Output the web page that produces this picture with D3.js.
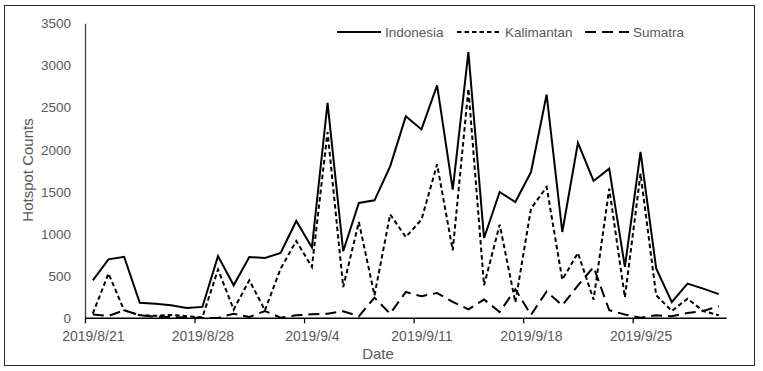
<!DOCTYPE html>
<html>
<head>
<meta charset="utf-8">
<script src="https://cdn.jsdelivr.net/npm/d3@7"></script>
<style>
  body { margin: 0; background: #fff; }
  text { font-family: "Liberation Sans", Arial, sans-serif; }
</style>
</head>
<body>
<div id="chart"></div>
<script>
// daily values 2019/8/21 .. 2019/9/30
var startDate = "2019-08-21";
var indonesia = [450, 700, 730, 185, 172, 155, 122, 135, 738, 391, 727,
  715, 775, 1155, 840, 2555, 795, 1368, 1400, 1803, 2396, 2241, 2763, 1526, 3158,
  953, 1498, 1379, 1735, 2655, 1024, 2082, 1629, 1775, 610, 1973, 592, 192, 412,
  352, 287];
var kalimantan = [55, 532, 95, 36, 30, 40, 25, 12, 578, 104, 451,
  95, 589, 918, 609, 2210, 371, 1142, 273, 1233, 964, 1170, 1826, 806, 2724,
  391, 1111, 190, 1301, 1558, 459, 775, 221, 1538, 249, 1716, 273, 87, 233,
  87, 36];
var sumatra = [44, 28, 95, 36, 20, 15, 10, 5, 5, 55, 15,
  87, 8, 35, 47, 55, 83, 24, 245, 55, 312, 261, 300, 194, 107,
  222, 75, 345, 40, 318, 154, 390, 608, 95, 45, 6, 36, 24, 63,
  87, 142];
var yTicks = [0, 500, 1000, 1500, 2000, 2500, 3000, 3500];
var xTickLabels = ["2019/8/21", "2019/8/28", "2019/9/4", "2019/9/11", "2019/9/18", "2019/9/25"];
var seriesNames = ["Indonesia", "Kalimantan", "Sumatra"];

var W = 763, H = 371;
var svg = d3.select("#chart").append("svg").attr("width", W).attr("height", H);

// outer frame
svg.append("rect").attr("x", 4.5).attr("y", 5.5).attr("width", 750).attr("height", 360)
  .attr("fill", "#fff").attr("stroke", "#262626").attr("stroke-width", 1);

var parse = d3.timeParse("%Y-%m-%d");
var parseTick = d3.timeParse("%Y/%m/%d");
var d0 = parse(startDate);
var days = indonesia.map(function(v, i) { return d3.timeDay.offset(d0, i); });
var dEnd = d3.timeDay.offset(d0, indonesia.length);

var x = d3.scaleTime().domain([d0, dEnd]).range([85, 726.6]);
var y = d3.scaleLinear().domain([0, 3500]).range([318.3, 23.3]);
var halfDay = (x(d3.timeDay.offset(d0, 1)) - x(d0)) / 2;

// y axis
var gy = svg.append("g").attr("transform", "translate(85,0)")
  .call(d3.axisLeft(y).tickValues(yTicks).tickSize(0).tickPadding(14).tickFormat(d3.format("d")));
gy.select(".domain").attr("stroke", "#404040").attr("stroke-width", 1.3);
gy.selectAll("text").attr("fill", "#595959").style("font-size", "13.5px");

// x axis
var tickDates = xTickLabels.map(function(s) { return parseTick(s); });
var gx = svg.append("g").attr("transform", "translate(0," + y(0) + ")")
  .call(d3.axisBottom(x).tickValues(tickDates).tickSize(5).tickPadding(8)
    .tickFormat(function(d, i) { return xTickLabels[i]; }));
gx.select(".domain").attr("stroke", "#000").attr("stroke-width", 1.5).attr("d", "M85,0H726.6");
gx.selectAll(".tick line").attr("stroke", "#000").attr("stroke-width", 1.3);
gx.selectAll("text").attr("fill", "#595959").style("font-size", "14px")
  .attr("dx", halfDay);

// axis titles
svg.append("text").attr("x", 378).attr("y", 359).attr("text-anchor", "middle")
  .attr("fill", "#595959").style("font-size", "15px").text("Date");
svg.append("text").attr("transform", "translate(33,170) rotate(-90)").attr("text-anchor", "middle")
  .attr("fill", "#595959").style("font-size", "15px").text("Hotspot Counts");

// lines
var dashes = [null, "4.5,3", "11,6"];
var line = d3.line()
  .x(function(d, i) { return x(days[i]) + halfDay; })
  .y(function(d) { return y(d); });

[sumatra, kalimantan, indonesia].forEach(function(s, k) {
  var idx = 2 - k;
  svg.append("path").datum(s).attr("d", line)
    .attr("fill", "none").attr("stroke", "#000").attr("stroke-width", 2)
    .attr("stroke-linejoin", "miter")
    .attr("stroke-dasharray", dashes[idx]);
});

// legend
var legX = [337, 457, 585];
seriesNames.forEach(function(n, i) {
  svg.append("line").attr("x1", legX[i]).attr("x2", legX[i] + 44)
    .attr("y1", 32).attr("y2", 32).attr("stroke", "#000").attr("stroke-width", 2)
    .attr("stroke-dasharray", dashes[i]);
  svg.append("text").attr("x", legX[i] + 48).attr("y", 36.5)
    .attr("fill", "#595959").style("font-size", "13.5px").text(n);
});
</script>
</body>
</html>
